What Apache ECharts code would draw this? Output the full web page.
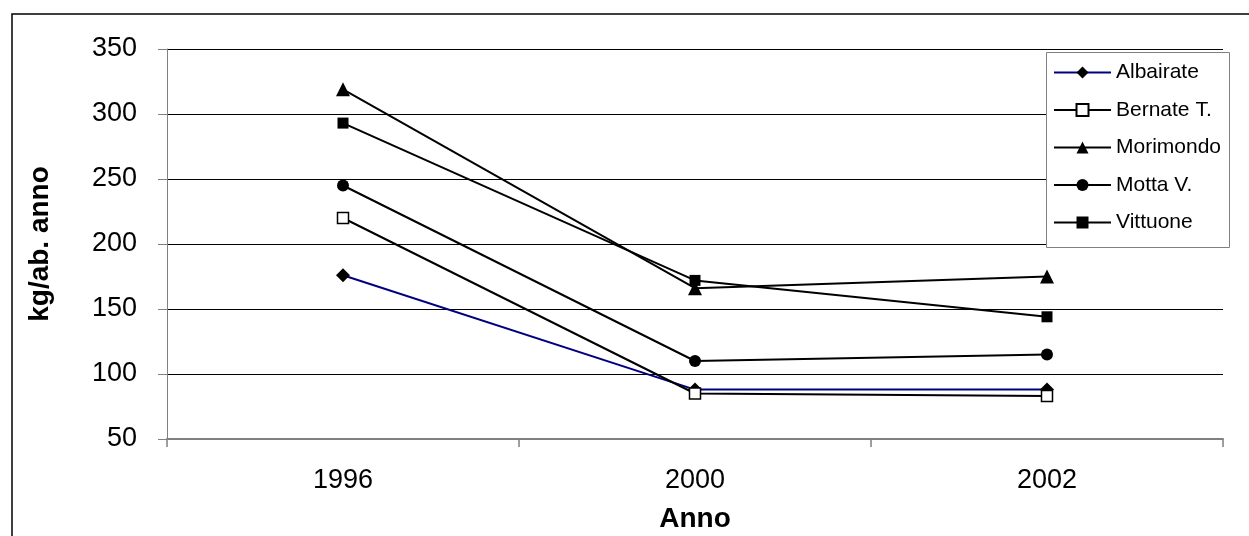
<!DOCTYPE html>
<html>
<head>
<meta charset="utf-8">
<script src="https://cdn.jsdelivr.net/npm/echarts@6/dist/echarts.min.js"></script>
<style>
  html, body { margin: 0; padding: 0; background: #fff; }
  #chart { width: 1249px; height: 536px; }
</style>
</head>
<body>
<div id="chart"></div>
<script>
// dati
var anni = ['1996', '2000', '2002'];
var albairate = [176, 88, 88];
var bernate = [220, 85, 83];
var morimondo = [319, 166, 175];
var motta = [245, 110, 115];
var vittuone = [293, 172, 144];

var FONT = 'Arial, "Liberation Sans", sans-serif';

function serie(nome, dati, simbolo, size, fill, lineColor) {
    return {
        name: nome,
        type: 'line',
        data: dati,
        symbol: simbolo,
        symbolSize: size,
        showAllSymbol: true,
        lineStyle: { color: lineColor, width: 2 },
        itemStyle: { color: fill, borderColor: '#000', borderWidth: fill === '#fff' ? 1.5 : 0 },
        emphasis: { disabled: true },
        z: 5
    };
}

var myChart = echarts.init(document.getElementById('chart'));
myChart.setOption({
    backgroundColor: '#fff',
    animation: false,
    textStyle: { fontFamily: FONT },
    grid: {
        left: 167,
        right: 26,
        top: 49,
        bottom: 97,
        outerBoundsMode: 'none'
    },
    graphic: [
        { // cornice esterna
            type: 'rect',
            shape: { x: 12, y: 14, width: 1300, height: 600 },
            style: { fill: 'none', stroke: '#000', lineWidth: 1.5 },
            z: 1
        },
        { // box legenda
            type: 'rect',
            shape: { x: 1046.5, y: 52.5, width: 183, height: 195 },
            style: { fill: '#fff', stroke: '#808080', lineWidth: 1 },
            z: 3
        }
    ],
    legend: {
        orient: 'vertical',
        left: 1053,
        top: 62,
        padding: 0,
        itemWidth: 57,
        itemHeight: 15,
        itemGap: 16.5,
        textStyle: { fontFamily: FONT, fontSize: 21, color: '#000' },
        data: ['Albairate', 'Bernate T.', 'Morimondo', 'Motta V.', 'Vittuone'],
        z: 4
    },
    xAxis: {
        type: 'category',
        data: anni,
        boundaryGap: true,
        name: 'Anno',
        nameLocation: 'middle',
        nameGap: 66,
        nameTextStyle: { fontFamily: FONT, fontSize: 28, fontWeight: 'bold', color: '#000' },
        axisLine: { lineStyle: { color: '#808080', width: 2 } },
        axisTick: { show: true, length: 8, inside: false, lineStyle: { color: '#808080', width: 1.5 } },
        axisLabel: { fontFamily: FONT, fontSize: 27, color: '#000', margin: 28 },
        splitLine: { show: false }
    },
    yAxis: {
        type: 'value',
        min: 50,
        max: 350,
        interval: 50,
        name: 'kg/ab. anno',
        nameLocation: 'middle',
        nameGap: 113,
        nameTextStyle: { fontFamily: FONT, fontSize: 28, fontWeight: 'bold', color: '#000' },
        axisLine: { show: true, lineStyle: { color: '#808080', width: 1 } },
        axisTick: { show: true, length: 9, inside: false, lineStyle: { color: '#808080', width: 1 } },
        axisLabel: { fontFamily: FONT, fontSize: 27, color: '#000', margin: 30 },
        splitLine: { show: true, lineStyle: { color: '#000', width: 1 } }
    },
    series: [
        serie('Albairate', albairate, 'diamond', 14, '#000', '#000080'),
        serie('Bernate T.', bernate, 'rect', 11, '#fff', '#000'),
        serie('Morimondo', morimondo, 'triangle', 14, '#000', '#000'),
        serie('Motta V.', motta, 'circle', 12, '#000', '#000'),
        serie('Vittuone', vittuone, 'rect', 11, '#000', '#000')
    ]
});
</script>
</body>
</html>
